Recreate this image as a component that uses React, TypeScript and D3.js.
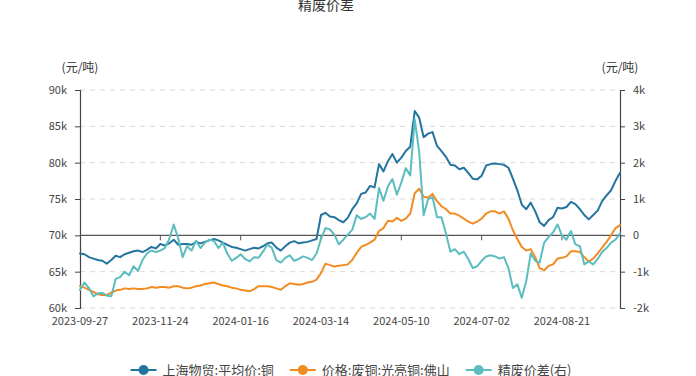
import React, { useEffect, useRef } from 'react';
import * as d3 from 'd3';

const TITLE = '精废价差';
const UNIT = '(元/吨)';
const SERIES_NAMES = ['上海物贸:平均价:铜', '价格:废铜:光亮铜:佛山', '精废价差(右)'];
const COLORS = ['#23749e', '#f28c22', '#5bbdbf'];

// trading-day calendar (categories)
const START_DATE = '2023-09-27';
const END_DATE = '2024-09-30';
const HOLIDAYS = [
  '2023-09-29', '2023-10-02', '2023-10-03', '2023-10-04', '2023-10-05', '2023-10-06',
  '2024-01-01', '2024-02-09', '2024-02-12', '2024-02-13', '2024-02-14', '2024-02-15', '2024-02-16',
  '2024-04-04', '2024-04-05', '2024-05-01', '2024-05-02', '2024-05-03', '2024-06-10',
  '2024-09-16', '2024-09-17',
];
const X_LABELS = ['2023-09-27', '2023-11-24', '2024-01-16', '2024-03-14', '2024-05-10', '2024-07-02', '2024-08-21'];
const LEFT_TICKS = [60000, 65000, 70000, 75000, 80000, 85000, 90000];
const RIGHT_TICKS = [-2000, -1000, 0, 1000, 2000, 3000, 4000];

// values sampled every second trading day
const SPOT = [
  67500, 67400, 67000, 66800, 66600, 66500, 66100, 66600, 67200, 67000,
  67400, 67600, 67800, 67900, 67700, 68000, 68400, 68200, 68800, 68600,
  68900, 69400, 68700, 68800, 68800, 68700, 69100, 68900, 69100, 69300,
  69500, 69300, 69000, 68700, 68400, 68300, 68100, 67900, 68100, 68300,
  68200, 68500, 68900, 69000, 68300, 67900, 68500, 69000, 69200, 68900,
  69000, 69100, 69300, 69500, 72800, 73100, 72600, 72500, 72100, 71800,
  72400, 73600, 74400, 75700, 75900, 76800, 76600, 79800, 78800, 80200,
  81200, 80000, 80700, 81600, 82200, 87100, 86200, 83500, 84000, 84200,
  82300, 81600, 80800, 79700, 79600, 79100, 79300, 78600, 77800, 77700,
  78200, 79600, 79800, 79900, 79800, 79700, 79300, 77800, 76200, 74200,
  73600, 74500, 73300, 71800, 71300, 72100, 72500, 73800, 73700, 73900,
  74600, 74300, 73600, 72800, 72200, 72800, 73400, 74700, 75500, 76200,
  77500, 78600,
];
const SCRAP = [
  63000, 62800, 62500, 62200, 61900, 61800, 61800, 62100, 62400, 62500,
  62700, 62600, 62700, 62600, 62600, 62700, 62900, 62800, 62900, 62900,
  62800, 63000, 63000, 62800, 62700, 62800, 63000, 63100, 63300, 63400,
  63500, 63300, 63100, 63000, 62800, 62700, 62500, 62400, 62300, 62600,
  63000, 63000, 63000, 62900, 62700, 62500, 63000, 63400, 63300, 63200,
  63300, 63500, 63600, 63900, 64800, 66100, 65900, 65700, 65800, 65900,
  66000, 66600, 67600, 68400, 68700, 69000, 69400, 70600, 71000, 72000,
  71900, 72400, 72000, 72300, 73000, 75800, 76400, 75300, 75200, 75700,
  74700, 74000, 73600, 73000, 73000, 72700, 72300, 71900, 71600, 71900,
  72300, 73000, 73300, 73300, 73000, 73300, 72300, 70700, 69500, 68400,
  67900, 68100, 67000, 65500, 65200, 65800, 66000, 66800, 66900, 67100,
  67800, 67800, 67700, 67000, 66400, 66800, 67500, 68300, 69100, 70000,
  71000, 71400,
];
const SPREAD = [
  -1500, -1300, -1450, -1680, -1600, -1580, -1660, -1680, -1200, -1150,
  -1000, -1100, -850, -980, -680, -500, -420, -460, -420, -350,
  -100, 300, -80, -600, -300, -420, -150, -350, -200, -120,
  -150, -350, -200, -500, -700, -620, -520, -650, -720, -600,
  -620, -450, -250, -350, -680, -750, -620, -550, -700, -650,
  -580, -620, -680, -500, -100, 200, 160, 20, -250, -120,
  20, 150, 550, 450, 500, 600, 450, 1300, 950, 1350,
  1550, 1120, 1450, 1850, 1650, 3200, 2300, 550, 1000, 1050,
  500, 500, 50, -450, -380, -520, -450, -650, -900, -850,
  -700, -580, -550, -580, -640, -600, -900, -1450, -1350, -1720,
  -1250, -500, -700, -750, -200, -50, 80, 300, 0, -120,
  120, -250, -300, -800, -720, -800, -650, -460, -350, -200,
  -120, 50,
];

const FONT = '"Noto Sans CJK SC", "Noto Sans", sans-serif';

function tradingDays(start: string, end: string, holidays: string[]): string[] {
  const out: string[] = [];
  const hol = new Set(holidays);
  const d = new Date(start + 'T00:00:00Z');
  const e = new Date(end + 'T00:00:00Z');
  while (d <= e) {
    const wd = d.getUTCDay();
    const s = d.toISOString().slice(0, 10);
    if (wd !== 0 && wd !== 6 && !hol.has(s)) out.push(s);
    d.setUTCDate(d.getUTCDate() + 1);
  }
  return out;
}

export default function App() {
  const ref = useRef<SVGSVGElement>(null);

  useEffect(() => {
    const svg = d3.select(ref.current);
    svg.selectAll('*').remove();

    const days = tradingDays(START_DATE, END_DATE, HOLIDAYS);
    const dates = days.filter((_, i) => i % 2 === 0);

    const left = 80, right = 620, top = 90, bottom = 308;
    const x = d3.scalePoint<string>().domain(dates).range([left, right]);
    const yL = d3.scaleLinear().domain([60000, 90000]).range([bottom, top]);
    const yR = d3.scaleLinear().domain([-2000, 4000]).range([bottom, top]);
    const zeroY = yR(0);

    // title
    svg.append('text').attr('x', 326).attr('y', 10).attr('text-anchor', 'middle')
      .attr('font-family', FONT).attr('font-size', 14).attr('fill', '#333').text(TITLE);

    // units
    svg.append('text').attr('x', left).attr('y', 72).attr('text-anchor', 'middle')
      .attr('font-family', FONT).attr('font-size', 12).attr('fill', '#333').text(UNIT);
    svg.append('text').attr('x', right).attr('y', 72).attr('text-anchor', 'middle')
      .attr('font-family', FONT).attr('font-size', 12).attr('fill', '#333').text(UNIT);

    // grid
    const g = svg.append('g');
    LEFT_TICKS.forEach((t) => {
      if (Math.abs(yL(t) - zeroY) < 0.5) return;
      g.append('line').attr('x1', left).attr('x2', right).attr('y1', yL(t)).attr('y2', yL(t))
        .attr('stroke', '#d9d9d9').attr('stroke-dasharray', '5,5').attr('stroke-width', 1);
    });

    // left axis
    const la = svg.append('g').attr('transform', `translate(${left},0)`)
      .call(d3.axisLeft(yL).tickValues(LEFT_TICKS).tickSize(5).tickPadding(8)
        .tickFormat((d: any) => `${d / 1000}k`));
    // right axis
    const ra = svg.append('g').attr('transform', `translate(${right},0)`)
      .call(d3.axisRight(yR).tickValues(RIGHT_TICKS).tickSize(5).tickPadding(8)
        .tickFormat((d: any) => (d === 0 ? '0' : `${d / 1000}k`)));
    [la, ra].forEach((a) => {
      a.select('.domain').attr('stroke', '#444').attr('stroke-width', 1.2);
      a.selectAll('.tick line').attr('stroke', '#444');
      a.selectAll('.tick text').attr('font-family', FONT).attr('font-size', 11).attr('fill', '#444');
    });

    // x axis line at zero
    svg.append('line').attr('x1', left).attr('x2', right).attr('y1', zeroY).attr('y2', zeroY)
      .attr('stroke', '#555').attr('stroke-width', 1.2);
    X_LABELS.forEach((lab) => {
      const px = x(lab);
      if (px === undefined) return;
      if (px > left + 1) {
        svg.append('line').attr('x1', px).attr('x2', px).attr('y1', zeroY).attr('y2', zeroY + 5)
          .attr('stroke', '#555');
      }
      svg.append('text').attr('x', px).attr('y', 325).attr('text-anchor', 'middle')
        .attr('font-family', FONT).attr('font-size', 11).attr('fill', '#444').text(lab);
    });

    // lines
    const lineL = d3.line<number>().x((_, i) => x(dates[i]) as number).y((d) => yL(d));
    const lineR = d3.line<number>().x((_, i) => x(dates[i]) as number).y((d) => yR(d));
    const plots: [number[], any, string][] = [
      [SPOT, lineL, COLORS[0]],
      [SCRAP, lineL, COLORS[1]],
      [SPREAD, lineR, COLORS[2]],
    ];
    plots.forEach(([data, gen, c]) => {
      svg.append('path').datum(data).attr('d', gen).attr('fill', 'none').attr('stroke', c)
        .attr('stroke-width', 2).attr('stroke-linejoin', 'round').attr('stroke-linecap', 'round');
    });

    // legend
    const lg = svg.append('g');
    const fontSize = 13;
    const iconW = 26, iconGap = 6, itemGap = 16;
    const items: { w: number; tw: number; node: any; i: number }[] = [];
    SERIES_NAMES.forEach((name, i) => {
      const it = lg.append('g');
      it.append('line').attr('x1', 0).attr('x2', iconW).attr('y1', 0).attr('y2', 0)
        .attr('stroke', COLORS[i]).attr('stroke-width', 2);
      it.append('circle').attr('cx', iconW / 2).attr('cy', 0).attr('r', 5).attr('fill', COLORS[i]);
      const t = it.append('text').attr('x', iconW + iconGap).attr('y', 0).attr('dy', '0.35em')
        .attr('font-family', FONT).attr('font-size', fontSize).attr('fill', '#444').text(name);
      const tw = (t.node() as SVGTextElement).getComputedTextLength();
      items.push({ w: iconW + iconGap + tw, tw, node: it, i });
    });
    const total = items.reduce((s, it) => s + it.w, 0) + itemGap * (items.length - 1);
    let cx = 351 - total / 2;
    items.forEach((it) => {
      it.node.attr('transform', `translate(${cx},370)`);
      cx += it.w + itemGap;
    });
  }, []);

  return (
    <svg
      ref={ref}
      width={696}
      height={376}
      style={{ position: 'absolute', left: 0, top: 0, background: '#fff' }}
    />
  );
}
